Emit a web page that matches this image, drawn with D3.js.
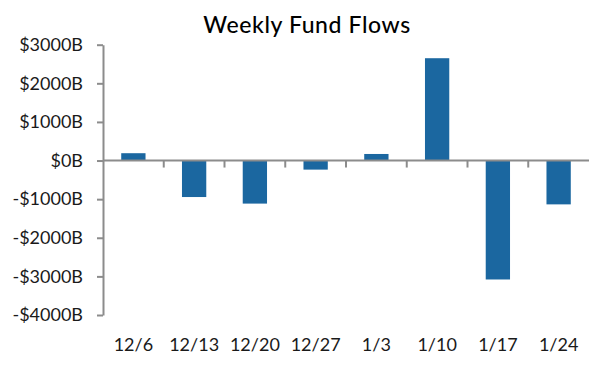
<!DOCTYPE html>
<html>
<head>
<meta charset="utf-8">
<script src="https://cdn.jsdelivr.net/npm/d3@7"></script>
<style>
  body { margin: 0; background: #fff; }
  text { font-family: Lato, "Open Sans", sans-serif; }
</style>
</head>
<body>
<div id="chart"></div>
<script>
// weekly flows, $B
const weeks = ["12/6", "12/13", "12/20", "12/27", "1/3", "1/10", "1/17", "1/24"];
const flows = [190, -945, -1115, -235, 170, 2650, -3080, -1135];
const yTicks = [3000, 2000, 1000, 0, -1000, -2000, -3000, -4000];

const width = 589, height = 375;
const margin = {top: 44.7, right: 0, bottom: 60, left: 103};

const svg = d3.select("#chart").append("svg")
    .attr("width", width)
    .attr("height", height);

const x = d3.scaleBand()
    .domain(weeks)
    .range([margin.left, width - margin.right])
    .paddingInner(0.6)
    .paddingOuter(0.3);

const y = d3.scaleLinear()
    .domain([-4000, 3000])
    .range([315, margin.top]);

const axisColor = "#8c8c8c";

// title
svg.append("text")
    .attr("x", 307)
    .attr("y", 33)
    .attr("text-anchor", "middle")
    .attr("font-size", 23)
    .attr("font-weight", 500)
    .attr("font-family", "Roboto, Lato, sans-serif")
    .attr("letter-spacing", 0.6)
    .attr("fill", "#000")
    .text("Weekly Fund Flows");

// bars
svg.selectAll(".bar")
    .data(weeks.map((w, i) => ({week: w, value: flows[i]})))
    .join("rect")
    .attr("class", "bar")
    .attr("x", d => x(d.week))
    .attr("width", x.bandwidth())
    .attr("y", d => y(Math.max(0, d.value)))
    .attr("height", d => Math.abs(y(d.value) - y(0)))
    .attr("fill", "#1b67a0");

// y axis
const yAxis = svg.append("g")
    .attr("transform", `translate(${margin.left},0)`)
    .call(d3.axisLeft(y)
        .tickValues(yTicks)
        .tickSize(6)
        .tickSizeOuter(0)
        .tickPadding(14)
        .tickFormat(d => (d < 0 ? "-$" : "$") + Math.abs(d) + "B"));
yAxis.select(".domain").attr("stroke", axisColor).attr("stroke-width", 2);
yAxis.selectAll(".tick line").attr("stroke", axisColor).attr("stroke-width", 2);
yAxis.selectAll(".tick text")
    .attr("font-size", 18)
    .attr("fill", "#1a1a1a")
    .attr("font-family", "Lato, sans-serif");

// zero line with category separators
const zeroY = y(0);
svg.append("line")
    .attr("x1", margin.left)
    .attr("x2", width - margin.right)
    .attr("y1", zeroY)
    .attr("y2", zeroY)
    .attr("stroke", axisColor)
    .attr("stroke-width", 2);

svg.selectAll(".sep")
    .data(weeks.slice(1))
    .join("line")
    .attr("class", "sep")
    .attr("x1", d => x(d) - x.step() * x.paddingInner() / 2)
    .attr("x2", d => x(d) - x.step() * x.paddingInner() / 2)
    .attr("y1", zeroY)
    .attr("y2", zeroY + 7)
    .attr("stroke", axisColor)
    .attr("stroke-width", 2);

// category labels at the bottom
const xAxis = svg.append("g")
    .attr("transform", `translate(0,${330})`)
    .call(d3.axisBottom(x).tickSize(0).tickPadding(8));
xAxis.select(".domain").remove();
xAxis.selectAll(".tick text")
    .attr("font-size", 18)
    .attr("fill", "#1a1a1a")
    .attr("font-family", "Lato, sans-serif");
</script>
</body>
</html>
